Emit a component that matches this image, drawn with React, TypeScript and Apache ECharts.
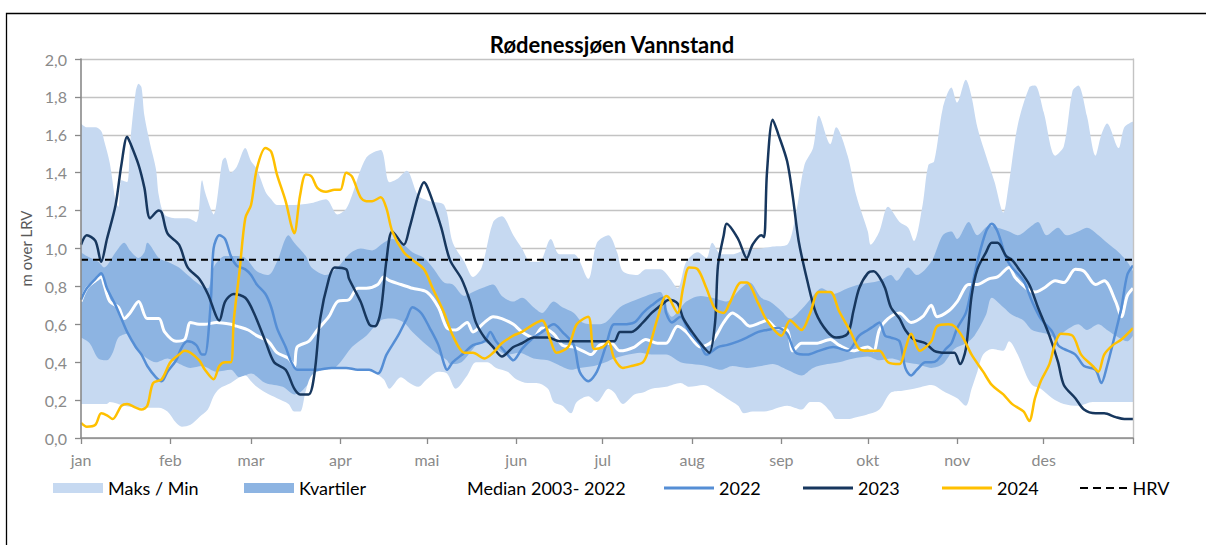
import React, { useEffect, useRef } from "react";
import * as echarts from "echarts";

const monthNames = ["jan", "feb", "mar", "apr", "mai", "jun", "jul", "aug", "sep", "okt", "nov", "des"];
const monthStarts = [0, 31, 59, 90, 120, 151, 181, 212, 243, 273, 304, 334, 365];
const hrvLevel = 0.94;

const maxData: number[][] = [
  [0, 1.66], [2, 1.64], [5, 1.64], [7, 1.62], [8, 1.57], [10, 1.45], [12, 1.25], [13, 1.22], [14, 1.36], [16, 1.35],
  [17, 1.55], [19, 1.83], [20, 1.87], [21, 1.85], [22, 1.7], [24, 1.55], [26, 1.42], [27, 1.28], [29, 1.18], [33, 1.16],
  [37, 1.16], [40, 1.14], [42, 1.36], [43, 1.3], [45, 1.21], [46, 1.18], [49, 1.46], [50, 1.48], [52, 1.4], [54, 1.43],
  [57, 1.53], [59, 1.46], [61, 1.42], [64, 1.3], [66, 1.26], [68, 1.23], [74, 1.23], [80, 1.24], [85, 1.26], [89, 1.18],
  [92, 1.21], [94, 1.28], [99, 1.48], [104, 1.52], [107, 1.35], [110, 1.37], [113, 1.41], [117, 1.28], [121, 1.25],
  [126, 1.23], [129, 1.03], [133, 0.93], [136, 0.85], [139, 0.9], [143, 1.14], [146, 1.17], [150, 1.07], [153, 1.0],
  [156, 0.93], [159, 0.93], [163, 1.05], [166, 0.97], [171, 0.97], [176, 0.84], [179, 1.03], [183, 1.07], [186, 0.98],
  [188, 0.88], [193, 0.86], [196, 0.89], [201, 0.89], [204, 0.85], [207, 0.79], [210, 0.93], [214, 0.98], [217, 0.95],
  [219, 1.03], [222, 0.97], [226, 0.97], [230, 0.99], [236, 1.0], [240, 1.01], [245, 1.02], [248, 1.18], [251, 1.44],
  [254, 1.53], [256, 1.7], [260, 1.55], [262, 1.64], [266, 1.49], [269, 1.28], [273, 1.09], [274, 1.02], [277, 1.09],
  [280, 1.22], [284, 1.14], [287, 1.11], [289, 1.04], [292, 1.23], [294, 1.44], [296, 1.46], [299, 1.74], [302, 1.85],
  [304, 1.77], [307, 1.89], [309, 1.8], [311, 1.64], [314, 1.49], [317, 1.35], [320, 1.19], [322, 1.35], [325, 1.65],
  [329, 1.85], [331, 1.86], [334, 1.72], [338, 1.49], [341, 1.54], [344, 1.83], [346, 1.86], [349, 1.7], [352, 1.49],
  [354, 1.6], [356, 1.66], [360, 1.53], [362, 1.64], [365, 1.67],
];

const minData: number[][] = [
  [0, 0.18], [9, 0.18], [10, 0.19], [15, 0.17], [20, 0.16], [27, 0.16], [30, 0.14], [33, 0.08], [35, 0.06], [38, 0.07],
  [41, 0.11], [44, 0.15], [46, 0.22], [48, 0.26], [52, 0.29], [55, 0.32], [57, 0.33], [59, 0.3], [61, 0.27], [64, 0.24],
  [68, 0.21], [72, 0.18], [74, 0.14], [76, 0.14], [78, 0.25], [80, 0.33], [84, 0.36], [92, 0.37], [101, 0.35], [105, 0.31],
  [107, 0.26], [111, 0.32], [114, 0.29], [117, 0.27], [120, 0.31], [124, 0.35], [127, 0.34], [130, 0.26], [134, 0.33],
  [137, 0.4], [141, 0.4], [144, 0.37], [148, 0.35], [151, 0.31], [155, 0.29], [158, 0.29], [162, 0.26], [164, 0.19],
  [167, 0.17], [170, 0.13], [172, 0.19], [176, 0.22], [179, 0.19], [183, 0.26], [185, 0.24], [188, 0.18], [192, 0.23],
  [195, 0.24], [198, 0.26], [203, 0.27], [208, 0.29], [211, 0.27], [216, 0.28], [221, 0.24], [224, 0.21], [228, 0.17],
  [230, 0.13], [233, 0.14], [237, 0.14], [245, 0.17], [250, 0.15], [253, 0.19], [256, 0.19], [260, 0.14], [262, 0.1],
  [266, 0.1], [269, 0.11], [272, 0.12], [277, 0.15], [281, 0.24], [285, 0.25], [289, 0.26], [295, 0.28], [300, 0.24],
  [304, 0.21], [307, 0.17], [309, 0.26], [311, 0.35], [313, 0.44], [316, 0.47], [320, 0.46], [322, 0.51], [325, 0.44],
  [328, 0.33], [330, 0.28], [333, 0.26], [337, 0.21], [341, 0.18], [346, 0.17], [351, 0.19], [365, 0.19],
];

const q3Data: number[][] = [
  [0, 0.98], [2, 0.96], [6, 0.93], [8, 0.9], [12, 0.98], [15, 1.03], [17, 0.99], [20, 0.95], [22, 0.98], [23, 1.03],
  [27, 0.95], [30, 0.93], [34, 0.9], [37, 0.86], [41, 0.81], [44, 0.79], [46, 0.9], [50, 0.96], [53, 0.96], [57, 0.95],
  [61, 0.88], [65, 0.86], [68, 0.93], [72, 1.07], [74, 1.03], [78, 0.96], [80, 0.9], [85, 0.86], [89, 0.9], [93, 0.97],
  [97, 1.0], [101, 0.99], [105, 1.03], [108, 1.05], [112, 1.02], [115, 0.98], [119, 0.95], [122, 0.9], [126, 0.82],
  [129, 0.81], [133, 0.75], [136, 0.77], [139, 0.79], [143, 0.81], [146, 0.75], [150, 0.72], [153, 0.74], [157, 0.69],
  [160, 0.66], [164, 0.72], [167, 0.69], [171, 0.66], [174, 0.61], [178, 0.6], [182, 0.61], [187, 0.69], [191, 0.72],
  [196, 0.75], [201, 0.77], [203, 0.69], [205, 0.64], [210, 0.72], [215, 0.75], [219, 0.74], [224, 0.72], [229, 0.79],
  [232, 0.82], [236, 0.74], [239, 0.72], [243, 0.67], [246, 0.63], [250, 0.68], [254, 0.75], [257, 0.79], [261, 0.76],
  [266, 0.79], [270, 0.81], [277, 0.83], [281, 0.86], [283, 0.83], [287, 0.9], [290, 0.86], [295, 0.93], [299, 1.07],
  [302, 1.09], [304, 1.05], [308, 1.14], [311, 1.07], [315, 1.12], [318, 1.11], [322, 1.09], [325, 1.07], [329, 1.11],
  [332, 1.14], [335, 1.07], [339, 1.11], [342, 1.07], [346, 1.09], [349, 1.11], [353, 1.07], [356, 1.03], [360, 0.98],
  [363, 0.93], [365, 0.88],
];

const q1Data: number[][] = [
  [0, 0.53], [3, 0.5], [6, 0.42], [9, 0.41], [11, 0.45], [13, 0.53], [16, 0.55], [19, 0.47], [23, 0.42], [26, 0.4],
  [30, 0.42], [33, 0.4], [38, 0.37], [42, 0.38], [47, 0.35], [52, 0.36], [55, 0.32], [59, 0.34], [64, 0.29], [70, 0.27],
  [74, 0.23], [76, 0.24], [80, 0.3], [85, 0.33], [90, 0.4], [94, 0.48], [99, 0.54], [104, 0.62], [108, 0.63], [112, 0.61],
  [115, 0.56], [120, 0.49], [124, 0.44], [127, 0.41], [128, 0.39], [132, 0.4], [136, 0.47], [139, 0.51], [143, 0.48],
  [148, 0.44], [152, 0.45], [157, 0.42], [162, 0.41], [165, 0.39], [170, 0.36], [173, 0.37], [178, 0.38], [182, 0.4],
  [185, 0.42], [190, 0.44], [194, 0.45], [198, 0.44], [203, 0.44], [208, 0.4], [212, 0.39], [217, 0.38], [222, 0.36],
  [226, 0.38], [231, 0.37], [236, 0.38], [240, 0.39], [245, 0.36], [250, 0.33], [254, 0.37], [259, 0.39], [263, 0.4],
  [268, 0.42], [273, 0.43], [277, 0.41], [281, 0.42], [286, 0.4], [290, 0.39], [295, 0.37], [299, 0.39], [303, 0.47],
  [307, 0.5], [310, 0.54], [314, 0.65], [316, 0.74], [320, 0.69], [323, 0.65], [327, 0.62], [330, 0.57], [335, 0.55],
  [338, 0.53], [341, 0.56], [346, 0.6], [349, 0.57], [353, 0.6], [356, 0.57], [360, 0.53], [363, 0.51], [365, 0.54],
];

const medianData: number[][] = [
  [0, 0.72], [2, 0.79], [5, 0.83], [7, 0.85], [8, 0.81], [10, 0.72], [13, 0.69], [15, 0.63], [17, 0.66], [20, 0.72],
  [23, 0.63], [27, 0.63], [29, 0.56], [33, 0.51], [36, 0.52], [38, 0.61], [41, 0.6], [43, 0.6], [47, 0.61], [52, 0.6],
  [54, 0.59], [58, 0.57], [61, 0.54], [65, 0.51], [68, 0.45], [72, 0.42], [74, 0.38], [75, 0.48], [79, 0.51], [82, 0.57],
  [86, 0.64], [89, 0.72], [93, 0.73], [96, 0.79], [99, 0.79], [103, 0.81], [105, 0.85], [107, 0.83], [111, 0.81],
  [115, 0.79], [120, 0.77], [124, 0.69], [127, 0.58], [130, 0.57], [134, 0.61], [136, 0.56], [140, 0.61], [143, 0.64],
  [146, 0.63], [150, 0.6], [153, 0.56], [157, 0.53], [160, 0.58], [164, 0.55], [167, 0.49], [171, 0.48], [174, 0.46],
  [177, 0.44], [180, 0.49], [184, 0.5], [187, 0.46], [192, 0.48], [196, 0.52], [200, 0.5], [203, 0.5], [207, 0.59],
  [210, 0.56], [215, 0.48], [219, 0.51], [223, 0.61], [226, 0.66], [229, 0.63], [232, 0.59], [236, 0.61], [238, 0.62],
  [241, 0.58], [245, 0.57], [247, 0.46], [250, 0.5], [255, 0.5], [260, 0.52], [263, 0.49], [268, 0.46], [273, 0.48],
  [275, 0.46], [277, 0.57], [280, 0.63], [284, 0.66], [288, 0.61], [292, 0.64], [295, 0.7], [297, 0.64], [301, 0.67],
  [304, 0.72], [308, 0.81], [311, 0.81], [315, 0.84], [318, 0.85], [322, 0.9], [324, 0.85], [328, 0.79], [331, 0.77],
  [334, 0.79], [338, 0.83], [341, 0.82], [345, 0.89], [348, 0.88], [352, 0.81], [355, 0.83], [359, 0.72], [361, 0.64],
  [363, 0.75], [365, 0.79],
];

const y2022: number[][] = [
  [0, 0.73], [2, 0.79], [5, 0.84], [7, 0.87], [9, 0.79], [12, 0.7], [14, 0.63], [16, 0.56], [19, 0.48], [21, 0.44],
  [23, 0.38], [26, 0.32], [28, 0.3], [30, 0.35], [33, 0.41], [35, 0.48], [37, 0.51], [40, 0.49], [42, 0.44], [43, 0.44],
  [45, 0.71], [46, 1.0], [48, 1.07], [50, 1.05], [52, 0.96], [54, 0.91], [57, 0.89], [59, 0.86], [61, 0.81], [64, 0.76],
  [66, 0.69], [68, 0.58], [71, 0.48], [73, 0.4], [75, 0.36], [79, 0.36], [82, 0.36], [87, 0.37], [92, 0.37], [96, 0.36],
  [100, 0.36], [103, 0.34], [106, 0.44], [110, 0.54], [113, 0.63], [115, 0.69], [118, 0.66], [121, 0.58], [124, 0.49],
  [126, 0.39], [127, 0.36], [129, 0.4], [133, 0.45], [136, 0.49], [140, 0.51], [142, 0.56], [144, 0.51], [148, 0.44],
  [150, 0.41], [153, 0.47], [157, 0.53], [160, 0.56], [164, 0.6], [167, 0.56], [171, 0.49], [173, 0.35], [176, 0.3],
  [179, 0.35], [182, 0.48], [185, 0.6], [188, 0.6], [192, 0.61], [195, 0.66], [198, 0.7], [202, 0.74], [203, 0.66],
  [205, 0.61], [208, 0.64], [211, 0.56], [215, 0.49], [217, 0.44], [221, 0.48], [224, 0.49], [228, 0.51], [231, 0.53],
  [235, 0.56], [238, 0.57], [242, 0.58], [245, 0.55], [248, 0.45], [252, 0.44], [256, 0.46], [261, 0.48], [266, 0.46],
  [270, 0.54], [273, 0.57], [275, 0.59], [277, 0.61], [279, 0.54], [281, 0.53], [284, 0.51], [286, 0.37], [288, 0.33],
  [290, 0.36], [293, 0.4], [295, 0.4], [297, 0.41], [300, 0.47], [302, 0.5], [304, 0.58], [307, 0.66], [309, 0.79],
  [311, 0.93], [314, 1.09], [316, 1.13], [318, 1.09], [321, 0.95], [323, 0.9], [327, 0.83], [330, 0.72], [333, 0.63],
  [337, 0.56], [339, 0.49], [341, 0.47], [345, 0.44], [348, 0.38], [352, 0.36], [354, 0.29], [356, 0.38], [359, 0.56],
  [361, 0.69], [363, 0.86], [365, 0.91],
];

const y2023: number[][] = [
  [0, 1.02], [2, 1.07], [5, 1.04], [7, 0.93], [9, 1.05], [12, 1.23], [14, 1.44], [16, 1.59], [17, 1.56], [20, 1.44],
  [22, 1.32], [24, 1.16], [27, 1.2], [28, 1.19], [30, 1.08], [34, 1.02], [37, 0.9], [41, 0.84], [44, 0.76], [48, 0.62],
  [50, 0.72], [53, 0.76], [57, 0.74], [60, 0.66], [64, 0.51], [67, 0.4], [71, 0.36], [74, 0.26], [76, 0.23], [79, 0.23],
  [81, 0.34], [83, 0.63], [86, 0.84], [88, 0.9], [92, 0.89], [93, 0.84], [97, 0.72], [100, 0.6], [102, 0.59], [104, 0.67],
  [106, 0.94], [108, 1.09], [112, 1.02], [114, 1.11], [117, 1.28], [119, 1.35], [120, 1.33], [122, 1.25], [125, 1.11],
  [128, 0.94], [132, 0.84], [135, 0.72], [137, 0.61], [140, 0.53], [143, 0.48], [146, 0.43], [150, 0.48], [153, 0.5],
  [157, 0.53], [162, 0.53], [166, 0.51], [171, 0.51], [177, 0.51], [185, 0.51], [187, 0.56], [191, 0.56], [195, 0.61],
  [198, 0.66], [202, 0.71], [204, 0.73], [207, 0.71], [209, 0.63], [212, 0.56], [216, 0.48], [218, 0.45], [220, 0.61],
  [221, 0.91], [223, 1.07], [224, 1.13], [228, 1.05], [231, 0.95], [233, 1.02], [236, 1.07], [237, 1.06], [238, 1.4],
  [240, 1.68], [242, 1.6], [245, 1.46], [247, 1.27], [249, 1.04], [252, 0.83], [255, 0.66], [259, 0.56], [262, 0.53],
  [266, 0.55], [268, 0.67], [270, 0.79], [273, 0.87], [275, 0.88], [277, 0.85], [279, 0.79], [281, 0.69], [284, 0.63],
  [286, 0.57], [289, 0.52], [293, 0.5], [296, 0.46], [300, 0.45], [303, 0.45], [305, 0.39], [307, 0.47], [309, 0.75],
  [311, 0.89], [314, 0.98], [316, 1.03], [318, 1.03], [321, 0.96], [323, 0.94], [325, 0.9], [329, 0.81], [332, 0.69],
  [336, 0.54], [339, 0.4], [341, 0.28], [345, 0.21], [348, 0.15], [352, 0.13], [355, 0.13], [359, 0.11], [362, 0.1],
  [365, 0.1],
];

const y2024: number[][] = [
  [0, 0.08], [2, 0.06], [5, 0.07], [7, 0.13], [9, 0.12], [11, 0.1], [14, 0.17], [16, 0.18], [19, 0.16], [21, 0.15],
  [23, 0.17], [25, 0.29], [28, 0.31], [31, 0.4], [34, 0.44], [36, 0.46], [38, 0.45], [41, 0.41], [43, 0.36], [46, 0.31],
  [48, 0.38], [50, 0.4], [52, 0.4], [53, 0.62], [55, 0.88], [57, 1.16], [59, 1.23], [61, 1.42], [64, 1.53], [66, 1.51],
  [68, 1.39], [71, 1.25], [73, 1.12], [74, 1.08], [76, 1.28], [78, 1.39], [80, 1.38], [82, 1.32], [85, 1.3], [88, 1.31],
  [90, 1.31], [92, 1.4], [94, 1.38], [97, 1.27], [99, 1.25], [101, 1.25], [104, 1.27], [106, 1.21], [108, 1.09],
  [112, 0.98], [115, 0.94], [119, 0.89], [122, 0.79], [126, 0.66], [129, 0.54], [133, 0.45], [136, 0.45], [140, 0.42],
  [143, 0.45], [146, 0.5], [150, 0.54], [153, 0.56], [157, 0.6], [160, 0.62], [163, 0.51], [165, 0.45], [169, 0.48],
  [172, 0.6], [176, 0.64], [178, 0.47], [181, 0.48], [183, 0.51], [185, 0.42], [188, 0.37], [191, 0.38], [195, 0.4],
  [197, 0.47], [200, 0.63], [203, 0.75], [204, 0.74], [207, 0.66], [209, 0.8], [211, 0.9], [214, 0.89], [217, 0.79],
  [220, 0.68], [223, 0.66], [225, 0.71], [229, 0.82], [231, 0.82], [235, 0.71], [238, 0.62], [243, 0.54], [246, 0.62],
  [250, 0.57], [253, 0.66], [256, 0.77], [260, 0.77], [263, 0.67], [267, 0.56], [270, 0.47], [273, 0.46], [277, 0.46],
  [280, 0.4], [284, 0.39], [286, 0.47], [288, 0.55], [291, 0.46], [295, 0.51], [297, 0.59], [301, 0.6], [303, 0.59],
  [306, 0.53], [309, 0.44], [313, 0.35], [316, 0.28], [320, 0.23], [323, 0.18], [327, 0.14], [329, 0.09], [331, 0.21],
  [333, 0.3], [336, 0.39], [338, 0.5], [340, 0.55], [344, 0.54], [347, 0.44], [351, 0.38], [353, 0.35], [355, 0.44],
  [358, 0.49], [361, 0.52], [365, 0.58],
];

const hrvData: number[][] = [
  [0, hrvLevel],
  [365, hrvLevel],
];

const FONT = "Lato, 'Noto Sans', sans-serif";
const LIGHT = "#C6D9F1";
const MID = "#8DB4E2";
const C2022 = "#558ED5";
const C2023 = "#17375E";
const C2024 = "#FFC000";
const DASH_ICON = "path://M0,0h8v2h-8z M13,0h8v2h-8z M26,0h8v2h-8z M39,0h8v2h-8z";

function areaSeries(name: string, data: number[][], color: string) {
  return {
    type: "line",
    name,
    data,
    symbol: "none",
    smooth: 0.3,
    silent: true,
    lineStyle: { width: 0, color },
    itemStyle: { color },
    areaStyle: { color, opacity: 1 },
  };
}

function lineSeries(name: string, data: number[][], color: string, width: number, type: any = "solid") {
  return {
    type: "line",
    name,
    data,
    symbol: "none",
    smooth: type === "solid" ? 0.3 : false,
    silent: true,
    lineStyle: { width, color, type },
    itemStyle: { color },
  };
}

function legendAt(name: string, left: number, icon: string, color: string, h: number, w = 50) {
  return {
    data: [{ name, icon, itemStyle: { color, borderWidth: 0 } }],
    left,
    top: 478,
    padding: 0,
    itemWidth: w,
    itemHeight: h,
    itemGap: 0,
    selectedMode: false,
    textStyle: { fontFamily: FONT, fontSize: 18, color: "#000", lineHeight: 20 },
  };
}

export default function App() {
  const ref = useRef<HTMLDivElement>(null);
  useEffect(() => {
    const chart = echarts.init(ref.current!, null, { renderer: "svg" });
    const option: any = {
      animation: false,
      backgroundColor: "#fff",
      textStyle: { fontFamily: FONT },
      grid: { left: 81, right: 73, top: 59, bottom: 107, outerBoundsMode: "none" },
      graphic: [
        {
          type: "rect",
          shape: { x: 6.5, y: 13.5, width: 1300, height: 700 },
          style: { fill: "none", stroke: "#000", lineWidth: 1.3 },
          silent: true,
        },
        {
          type: "text",
          x: 612,
          y: 44,
          style: {
            text: "Rødenessjøen Vannstand",
            fontFamily: FONT,
            fontSize: 22,
            fontWeight: "bold",
            fill: "#000",
            textAlign: "center",
            textVerticalAlign: "middle",
          },
          silent: true,
        },
      ],
      legend: [
        legendAt("Maks / Min", 53, "rect", LIGHT, 10),
        legendAt("Kvartiler", 244, "rect", MID, 10),
        legendAt("Median 2003- 2022", 412, "rect", "#ffffff", 3),
        legendAt("2022", 664, "rect", C2022, 3),
        legendAt("2023", 803, "rect", C2023, 3),
        legendAt("2024", 942, "rect", C2024, 3),
        legendAt("HRV", 1080, DASH_ICON, "#000000", 2, 48),
      ],
      xAxis: {
        type: "value",
        min: 0,
        max: 365,
        z: 10,
        axisLine: { show: true, lineStyle: { color: "#898989", width: 1.6 } },
        axisTick: {
          show: true,
          length: 6,
          customValues: monthStarts,
          lineStyle: { color: "#898989", width: 1.3 },
        },
        axisLabel: {
          customValues: monthStarts.slice(0, 12),
          formatter: (v: number) => monthNames[monthStarts.indexOf(Math.round(v))] ?? "",
          fontFamily: FONT,
          fontSize: 16,
          color: "#8a8a8a",
          margin: 13,
        },
        splitLine: { show: false },
      },
      yAxis: [
        {
          type: "value",
          min: 0,
          max: 2,
          interval: 0.2,
          name: "m over LRV",
          nameLocation: "middle",
          nameGap: 46,
          nameTextStyle: { fontFamily: FONT, fontSize: 15, color: "#595959" },
          axisLine: { show: false },
          axisTick: { show: false },
          axisLabel: {
            formatter: (v: number) => v.toFixed(1).replace(".", ","),
            fontFamily: FONT,
            fontSize: 16,
            color: "#8a8a8a",
            margin: 14,
          },
          splitLine: { show: true, lineStyle: { color: "#c3c3c3", width: 1.4 } },
        },
        {
          type: "value",
          min: 0,
          max: 2,
          interval: 0.2,
          position: "left",
          z: 10,
          axisLine: { show: true, lineStyle: { color: "#898989", width: 1.6 } },
          axisTick: { show: true, length: 6, lineStyle: { color: "#898989", width: 1.3 } },
          axisLabel: { show: false },
          splitLine: { show: false },
        },
        {
          type: "value",
          min: 0,
          max: 2,
          interval: 0.2,
          position: "right",
          z: 10,
          axisLine: { show: true, lineStyle: { color: "#c3c3c3", width: 1.4 } },
          axisTick: { show: false },
          axisLabel: { show: false },
          splitLine: { show: false },
        },
      ],
      series: [
        areaSeries("Maks / Min", maxData, LIGHT),
        areaSeries("Kvartiler", q3Data, MID),
        areaSeries("q1", q1Data, LIGHT),
        areaSeries("min", minData, "#ffffff"),
        lineSeries("Median 2003- 2022", medianData, "#ffffff", 3),
        lineSeries("2022", y2022, C2022, 2.5),
        lineSeries("2023", y2023, C2023, 2.5),
        lineSeries("2024", y2024, C2024, 2.5),
        lineSeries("HRV", hrvData, "#000000", 2, [7, 5]),
      ],
    };
    chart.setOption(option);
    return () => chart.dispose();
  }, []);
  return (
    <div
      ref={ref}
      style={{ position: "fixed", left: 0, top: 0, width: 1206, height: 545, background: "#fff" }}
    />
  );
}
